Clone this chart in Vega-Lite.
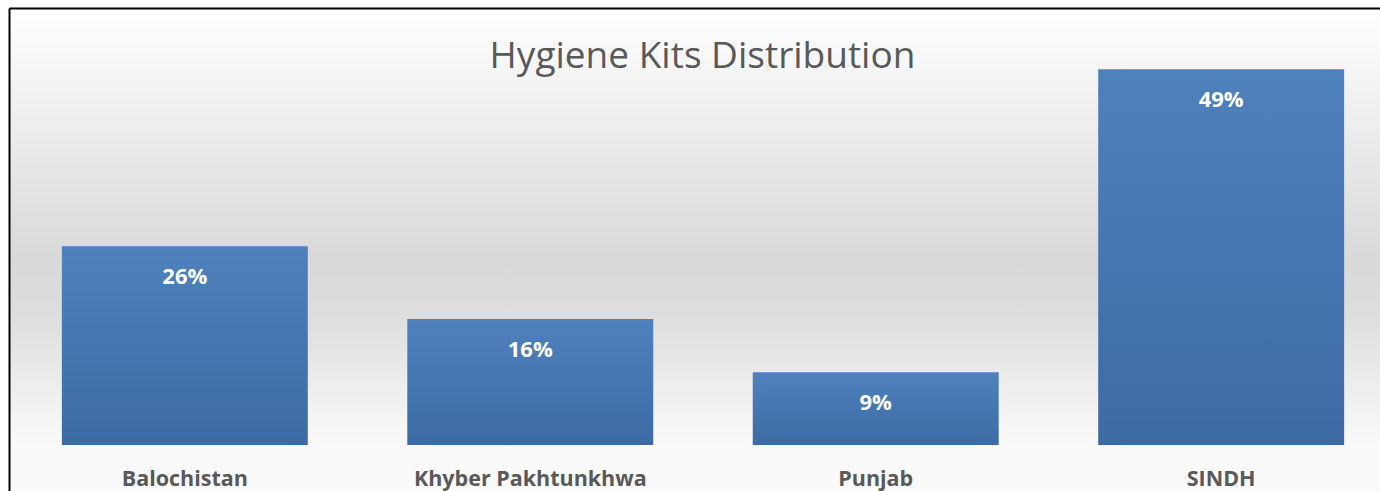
{
  "$schema": "https://vega.github.io/schema/vega-lite/v6.json",
  "width": 1371,
  "height": 483,
  "autosize": {"type": "none"},
  "padding": {"left": 9, "top": 8, "right": 0, "bottom": 0},
  "background": "#ffffff",
  "config": {
    "view": {
      "stroke": null,
      "fill": {
        "gradient": "linear", "x1": 0, "y1": 0, "x2": 0, "y2": 1,
        "stops": [
          {"offset": 0, "color": "#ffffff"},
          {"offset": 0.52, "color": "#d9d9d9"},
          {"offset": 0.63, "color": "#dddddd"},
          {"offset": 0.905, "color": "#fafafa"},
          {"offset": 1, "color": "#fafafa"}
        ]
      }
    }
  },
  "title": {
    "text": "Hygiene Kits Distribution",
    "font": "Open Sans",
    "fontSize": 37,
    "fontWeight": "normal",
    "color": "#595959",
    "anchor": "middle",
    "baseline": "middle",
    "offset": -49,
    "dy": 37,
    "dx": 8
  },
  "data": {
    "values": [
      {"region": "Balochistan", "value": 0.257},
      {"region": "Khyber Pakhtunkhwa", "value": 0.163},
      {"region": "Punjab", "value": 0.094},
      {"region": "SINDH", "value": 0.486}
    ]
  },
  "encoding": {
    "x": {
      "field": "region",
      "type": "nominal",
      "sort": null,
      "scale": {"range": [0, 1388], "paddingInner": 0.288, "paddingOuter": 0.153}
    },
    "y": {
      "field": "value",
      "type": "quantitative",
      "scale": {"domain": [-0.0595, 0.5653], "nice": false, "zero": false}
    }
  },
  "layer": [
    {
      "mark": {
        "type": "bar",
        "color": {
          "gradient": "linear", "x1": 0, "y1": 0, "x2": 0, "y2": 1,
          "stops": [
            {"offset": 0, "color": "#4f81bd"},
            {"offset": 1, "color": "#3c6ba4"}
          ]
        }
      },
      "encoding": {
        "x": {
          "field": "region", "type": "nominal", "sort": null,
          "axis": {
            "orient": "bottom", "title": null, "domain": false, "ticks": false, "grid": false,
            "labelAngle": 0, "labelFont": "Open Sans", "labelFontSize": 21.5, "labelFontWeight": "bold",
            "labelColor": "#595959", "labelPadding": 0, "labelBaseline": "middle", "offset": -12,
            "labelLimit": 0
          }
        },
        "y": {
          "field": "value", "type": "quantitative",
          "axis": {
            "orient": "left", "title": null, "labels": false, "ticks": false, "grid": false,
            "domain": true, "domainColor": "#000000", "domainWidth": 2
          }
        },
        "y2": {"datum": 0}
      }
    },
    {
      "mark": {
        "type": "text", "font": "Open Sans", "fontSize": 22, "fontWeight": "bold",
        "color": "#ffffff", "baseline": "middle", "dy": 31
      },
      "encoding": {
        "x": {
          "field": "region", "type": "nominal", "sort": null,
          "axis": {
            "orient": "top", "title": null, "labels": false, "ticks": false, "grid": false,
            "domain": true, "domainColor": "#000000", "domainWidth": 2
          }
        },
        "text": {"field": "value", "type": "quantitative", "format": ".0%"}
      }
    }
  ],
  "resolve": {"axis": {"x": "independent"}}
}
